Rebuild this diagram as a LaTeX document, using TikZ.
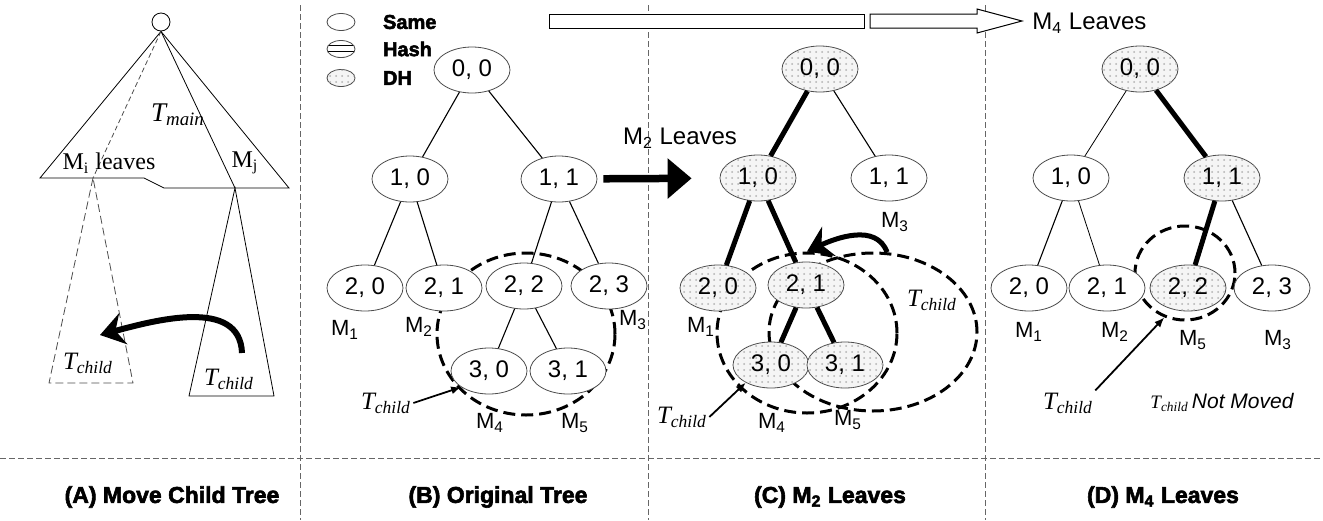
\documentclass[tikz,border=0pt]{standalone}
\usepackage{fontspec}
\setmainfont{Liberation Serif}
\setsansfont{Liberation Sans}
\newfontfamily\heavyfont[FakeBold=2.5]{Liberation Sans}
\usetikzlibrary{arrows.meta,shapes.geometric,patterns}
\newcommand{\Tsub}[1]{\textit{T\textsubscript{#1}}}
\tikzset{
  treenode/.style={ellipse, draw=black!70, fill=white, inner sep=0pt,
                   minimum width=38pt, minimum height=23pt,
                   font=\sffamily\fontsize{12}{14}\selectfont},
  dh/.style={fill=black!4, postaction={pattern=dots, pattern color=black!30}},
  legnode/.style={ellipse, draw=black!70, fill=white, inner sep=0pt,
                  minimum width=14pt, minimum height=8.5pt},
  legtext/.style={anchor=west, font=\heavyfont\bfseries\fontsize{10}{12}\selectfont},
  link/.style={draw=black, line width=0.55pt},
  hot/.style={draw=black, line width=2.5pt},
  ring/.style={ellipse, draw, line width=1.5pt, dash pattern=on 6pt off 3pt, inner sep=0pt},
  divider/.style={draw=black!60, line width=0.5pt, dash pattern=on 3pt off 1.5pt},
  mlab/.style={font=\sffamily\fontsize{11}{13}\selectfont, inner sep=1pt},
  tlab/.style={font=\rmfamily\fontsize{12.5}{14}\selectfont, inner sep=1pt},
  ptr/.style={-{Latex[length=5pt,width=4pt]}, line width=0.9pt},
  swing/.style={-{Stealth[length=12pt,width=16pt,inset=4pt]}, line width=3pt},
  caption/.style={font=\heavyfont\bfseries\fontsize{11.5}{13}\selectfont},
}

\begin{document}
\begin{tikzpicture}[x=0.5pt, y=-0.5pt]
  \useasboundingbox (0,0) rectangle (1323,520);

  % panel dividers
  \draw[divider] (300,5) -- (300,520);
  \draw[divider] (648,5) -- (648,520);
  \draw[divider] (985,5) -- (985,520);
  \draw[divider] (0,458) -- (1323,458);

  % (A) main tree with the two child trees
  \node[circle, draw, minimum size=9pt, inner sep=0pt] (root) at (161,22) {};
  \draw (root.south) -- (40,178) -- (144,178) -- (164,188) -- (289,188) -- cycle;
  \draw[black!70, dash pattern=on 2.5pt off 1.5pt] (root.south) -- (93,178);
  \draw[black!70, dash pattern=on 4pt off 2pt] (93,178) -- (49,383) -- (133,383) -- cycle;
  \draw (root.south) -- (235,188);
  \draw (235,188) -- (189,396) -- (274,396) -- cycle;
  \node[tlab, font=\rmfamily\fontsize{13.5}{15}\selectfont] (tmain) at (178,115) {\Tsub{main}};
  \node[tlab, font=\rmfamily\fontsize{12}{14}\selectfont] (mi) at (109,163) {M\textsubscript{i} leaves};
  \node[tlab, font=\rmfamily\fontsize{12}{14}\selectfont] (mj) at (245,163) {M\textsubscript{j}};
  \node[tlab] (aold) at (88,363) {\Tsub{child}};
  \node[tlab] (anew) at (229,379) {\Tsub{child}};
  \coordinate (afrom) at (242,353);
  \coordinate (ato) at (100,335);
  \draw[swing] (afrom) to[out=92, in=15] (ato);

  % legend and the step arrow on top
  \node[legnode] (lsame) at (341,22) {};
  \node[legnode, pattern=horizontal lines] (lhash) at (341,49) {};
  \node[legnode, dh] (ldh) at (341,78) {};
  \node[legtext] (tsame) at (376,22) {Same};
  \node[legtext] (thash) at (376,49) {Hash};
  \node[legtext] (tdh) at (376,78) {DH};
  \draw[fill=white, line width=0.5pt] (549,14) rectangle (864,28);
  \draw[fill=white, line width=0.5pt] (870,14) -- (977,14) -- (977,9) -- (1022,21)
    -- (977,33) -- (977,28) -- (870,28) -- cycle;
  \node[mlab, font=\sffamily\fontsize{12}{14}\selectfont, anchor=west] (m4step) at (1030,23) {M\textsubscript{4} Leaves};

  % (B) original tree
  \node[ring, minimum width=89pt, minimum height=81pt] (bring) at (526,334) {};
  \node[treenode] (b00) at (472,70) {0, 0};
  \node[treenode] (b10) at (410,179) {1, 0};
  \node[treenode] (b11) at (559,179) {1, 1};
  \node[treenode] (b20) at (365,288) {2, 0};
  \node[treenode] (b21) at (444,288) {2, 1};
  \node[treenode] (b22) at (524,286) {2, 2};
  \node[treenode] (b23) at (609,286) {2, 3};
  \node[treenode] (b30) at (489,371) {3, 0};
  \node[treenode] (b31) at (568,371) {3, 1};
  \draw[link] (b00) -- (b10);
  \draw[link] (b00) -- (b11);
  \draw[link] (b10) -- (b20);
  \draw[link] (b10) -- (b21);
  \draw[link] (b11) -- (b22);
  \draw[link] (b11) -- (b23);
  \draw[link] (b22) -- (b30);
  \draw[link] (b22) -- (b31);
  \node[mlab] (bm1) at (345,330) {M\textsubscript{1}};
  \node[mlab] (bm2) at (419,327) {M\textsubscript{2}};
  \node[mlab] (bm3) at (633,320) {M\textsubscript{3}};
  \node[mlab] (bm4) at (490,423) {M\textsubscript{4}};
  \node[mlab] (bm5) at (575,423) {M\textsubscript{5}};
  \node[tlab] (btc) at (386,403) {\Tsub{child}};
  \draw[ptr] (btc.east) -- (b30.210);

  % (C) after M2 leaves
  \node[ring, minimum width=104pt, minimum height=79pt] (cring2) at (873,332) {};
  \node[ring, minimum width=90pt, minimum height=80pt] (cring) at (807,333) {};
  \node[treenode, dh] (c00) at (820,69) {0, 0};
  \node[treenode, dh] (c10) at (758,178) {1, 0};
  \node[treenode] (c11) at (889,178) {1, 1};
  \node[treenode, dh] (c20) at (718,288) {2, 0};
  \node[treenode, dh] (c21) at (806,285) {2, 1};
  \node[treenode, dh] (c30) at (771,365) {3, 0};
  \node[treenode, dh] (c31) at (845,365) {3, 1};
  \draw[hot] (c00) -- (c10);
  \draw[link] (c00) -- (c11);
  \draw[hot] (c10) -- (c20);
  \draw[hot] (c10) -- (c21);
  \draw[hot] (c21) -- (c30);
  \draw[hot] (c21) -- (c31);
  \draw[line width=3.75pt, -{Triangle[length=12pt,width=19.5pt]},
        shorten <=3pt, shorten >=14pt] (b11) -- (c10);
  \node[mlab, font=\sffamily\fontsize{12}{14}\selectfont] (m2step) at (680,138) {M\textsubscript{2} Leaves};
  \node[mlab] (cm1) at (701,327) {M\textsubscript{1}};
  \node[mlab] (cm3) at (895,222) {M\textsubscript{3}};
  \node[mlab] (cm4) at (772,423) {M\textsubscript{4}};
  \node[mlab] (cm5) at (848,420) {M\textsubscript{5}};
  \node[tlab] (ctc) at (682,417) {\Tsub{child}};
  \node[tlab] (ctc2) at (932,300) {\Tsub{child}};
  \draw[ptr] (ctc.east) -- (c30.215);
  \draw[swing, line width=2.5pt] (cring2.80) to[out=110, in=25] (cring.north);

  % (D) after M4 leaves
  \node[ring, minimum width=50pt, minimum height=47pt] (dring) at (1185,273) {};
  \node[treenode, dh] (d00) at (1140,69) {0, 0};
  \node[treenode] (d10) at (1071,178) {1, 0};
  \node[treenode, dh] (d11) at (1222,178) {1, 1};
  \node[treenode] (d20) at (1029,288) {2, 0};
  \node[treenode] (d21) at (1107,288) {2, 1};
  \node[treenode, dh] (d22) at (1188,288) {2, 2};
  \node[treenode] (d23) at (1272,288) {2, 3};
  \draw[link, line width=0.4pt] (d00) -- (d10);
  \draw[hot] (d00) -- (d11);
  \draw[link] (d10) -- (d20);
  \draw[link, line width=0.4pt] (d10) -- (d21);
  \draw[hot] (d11) -- (d22);
  \draw[link] (d11) -- (d23);
  \node[mlab] (dm1) at (1029,332) {M\textsubscript{1}};
  \node[mlab] (dm2) at (1115,332) {M\textsubscript{2}};
  \node[mlab] (dm5) at (1193,340) {M\textsubscript{5}};
  \node[mlab] (dm3) at (1278,340) {M\textsubscript{3}};
  \node[tlab] (dtc) at (1068,403) {\Tsub{child}};
  \node[inner sep=1pt] (dstay) at (1222,402)
    {{\rmfamily\fontsize{9.5}{10}\selectfont\Tsub{child}}\,{\sffamily\itshape\fontsize{10.5}{12}\selectfont Not Moved}};
  \draw[ptr] (dtc.north east) -- (dring.245);

  % panel captions
  \node[caption] (capa) at (172,497) {(A) Move Child Tree};
  \node[caption] (capb) at (498,497) {(B) Original Tree};
  \node[caption] (capc) at (830,497) {(C) M\textsubscript{2} Leaves};
  \node[caption] (capd) at (1163,497) {(D) M\textsubscript{4} Leaves};
\end{tikzpicture}
\end{document}
